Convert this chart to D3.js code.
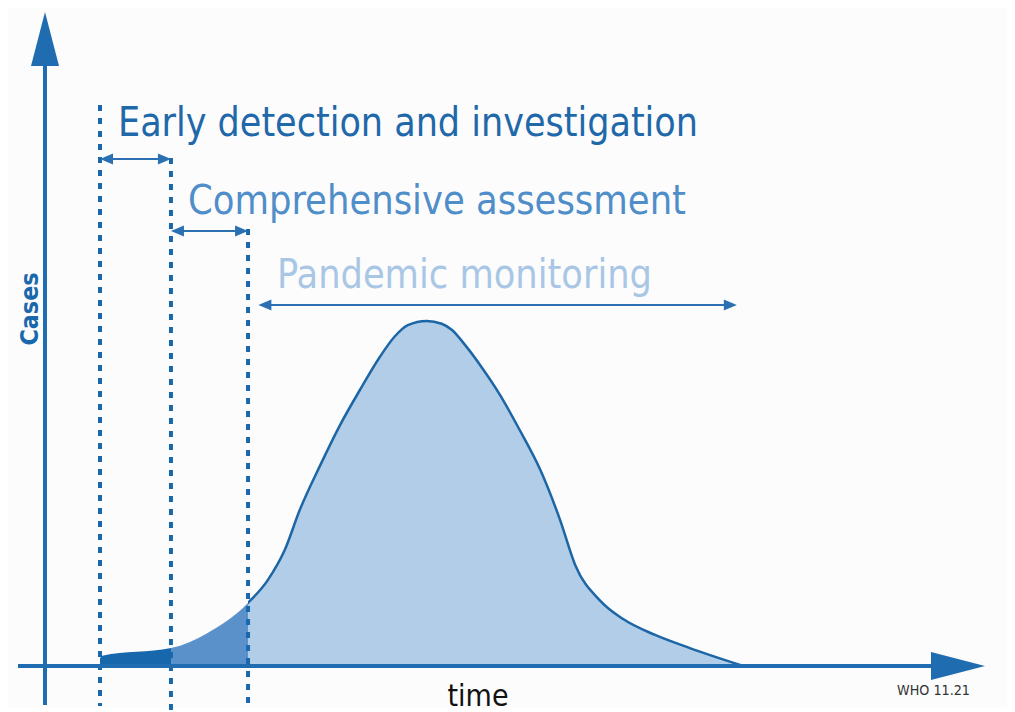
<!DOCTYPE html>
<html>
<head>
<meta charset="utf-8">
<script src="https://cdn.jsdelivr.net/npm/d3@7"></script>
<style>
  body { margin: 0; background: #ffffff; }
  svg { display: block; }
  text { font-family: "Liberation Sans Narrow", "DejaVu Sans Condensed", "Roboto Condensed", Roboto, sans-serif; }
</style>
</head>
<body>
<div id="chart"></div>
<script>
// epidemic curve, time in arbitrary units, cases as % of peak
const time  = [5.85, 6.1, 13.4, 17.3, 21.6, 23.7, 25.5, 27.1, 29.3, 31.4, 33.5, 35.6, 37.2, 38.6, 40.6, 42.2, 43.3, 44.7, 46.3, 48.4, 50.5, 52.7, 54.8, 56.4, 59.0, 61.5, 64.9, 68.6, 74.3];
const cases = [2.2, 3.0, 5.2, 9.6, 18.3, 24.9, 33.6, 45.2, 58.3, 69.9, 80.0, 89.5, 95.5, 98.8, 100, 99.2, 97.4, 93.0, 87.2, 78.6, 68.4, 56.8, 42.3, 29.3, 19.1, 13.6, 9.0, 5.2, 0];

// phases
const phaseNames  = ["Early detection and investigation", "Comprehensive assessment", "Pandemic monitoring"];
const phaseStart  = [5.85, 13.4, 22.7];
const phaseEnd    = [13.4, 21.6, 73.6];
const boundaries  = [5.85, 13.4, 21.6];

const svg_width = 1015;
const svg_height = 712;

const axisColor = "#1f6db0";
const fills = ["#1767ad", "#5b91cb", "#b1cde8"];
const labelColors = ["#1f68a9", "#4f8ec9", "#a9c7e5"];

const x = d3.scaleLinear().domain([0, 100]).range([45, 985]);
const y = d3.scaleLinear().domain([0, 100]).range([666, 321]);

let svg = d3.select("#chart")
  .append("svg")
    .attr("width", svg_width)
    .attr("height", svg_height);

svg.append("rect")
    .attr("x", 8).attr("y", 8)
    .attr("width", svg_width - 16).attr("height", svg_height - 12)
    .attr("fill", "#fcfcfd");

const pts = time.map((t, i) => [t, cases[i]]);

const area = d3.area()
    .x(d => x(d[0]))
    .y0(y(0))
    .y1(d => y(d[1]))
    .curve(d3.curveMonotoneX);

const line = d3.line()
    .x(d => x(d[0]))
    .y(d => y(d[1]))
    .curve(d3.curveMonotoneX);

// clip regions for the three coloured parts
const clipEdges = [boundaries[0], boundaries[1], boundaries[2], 100];
const defs = svg.append("defs");
for (let i = 0; i < 3; i++) {
    defs.append("clipPath")
        .attr("id", "clip" + i)
      .append("rect")
        .attr("x", x(clipEdges[i]))
        .attr("y", 0)
        .attr("width", x(clipEdges[i + 1]) - x(clipEdges[i]))
        .attr("height", y(0) + 2);
}

for (let i = 0; i < 3; i++) {
    svg.append("path")
        .datum(pts)
        .attr("clip-path", "url(#clip" + i + ")")
        .attr("d", area)
        .attr("fill", fills[i]);
}

svg.append("path")
    .datum(pts)
    .attr("clip-path", "url(#clip2)")
    .attr("d", line)
    .attr("fill", "none")
    .attr("stroke", "#1d66a6")
    .attr("stroke-width", 2.5);

// dotted phase boundaries
const dotTops = [105, 158, 229];
const dotBottoms = [706, 710, 708];
boundaries.forEach((b, i) => {
    svg.append("line")
        .attr("x1", x(b)).attr("x2", x(b))
        .attr("y1", dotTops[i]).attr("y2", dotBottoms[i])
        .attr("stroke", "#1a68ac")
        .attr("stroke-width", 4)
        .attr("stroke-dasharray", "6,7");
});

// axes
svg.append("line")
    .attr("x1", 45).attr("x2", 45)
    .attr("y1", 705).attr("y2", 50)
    .attr("stroke", axisColor).attr("stroke-width", 4);
svg.append("path")
    .attr("d", "M45,12 L59,66 L31,66 Z")
    .attr("fill", axisColor);

svg.append("line")
    .attr("x1", 18).attr("x2", 945)
    .attr("y1", y(0)).attr("y2", y(0))
    .attr("stroke", axisColor).attr("stroke-width", 4);
svg.append("path")
    .attr("d", `M985,${y(0)} L931,${y(0) - 14} L931,${y(0) + 14} Z`)
    .attr("fill", axisColor);

// phase arrows and labels
const arrowY = [159, 231, 305];
const labelX = [118, 188, 277];
const labelY = [136, 214, 288];
const labelW = [580, 498, 375];

function doubleArrow(x1, x2, yy) {
    const g = svg.append("g").attr("fill", "#2a70b2").attr("stroke", "#2a70b2");
    g.append("line")
        .attr("x1", x1 + 8).attr("x2", x2 - 8)
        .attr("y1", yy).attr("y2", yy)
        .attr("stroke-width", 2.2);
    g.append("path")
        .attr("stroke", "none")
        .attr("d", `M${x1},${yy} L${x1 + 13},${yy - 5.5} L${x1 + 13},${yy + 5.5} Z`);
    g.append("path")
        .attr("stroke", "none")
        .attr("d", `M${x2},${yy} L${x2 - 13},${yy - 5.5} L${x2 - 13},${yy + 5.5} Z`);
}

phaseNames.forEach((name, i) => {
    doubleArrow(x(phaseStart[i]), x(phaseEnd[i]), arrowY[i]);
    svg.append("text")
        .attr("x", labelX[i])
        .attr("y", labelY[i])
        .attr("font-size", 40)
        .attr("fill", labelColors[i])
        .attr("textLength", labelW[i])
        .attr("lengthAdjust", "spacingAndGlyphs")
        .text(name);
});

// axis titles
svg.append("text")
    .attr("transform", "translate(38,309) rotate(-90)")
    .attr("text-anchor", "middle")
    .attr("font-size", 25)
    .attr("font-weight", "bold")
    .attr("fill", "#1a68ac")
    .attr("textLength", 73)
    .attr("lengthAdjust", "spacingAndGlyphs")
    .text("Cases");

svg.append("text")
    .attr("x", 478)
    .attr("y", 706)
    .attr("text-anchor", "middle")
    .attr("font-size", 30)
    .attr("fill", "#111")
    .attr("textLength", 61)
    .attr("lengthAdjust", "spacingAndGlyphs")
    .text("time");

svg.append("text")
    .attr("x", 897)
    .attr("y", 695)
    .attr("font-size", 14)
    .attr("fill", "#333")
    .attr("textLength", 73)
    .attr("lengthAdjust", "spacingAndGlyphs")
    .text("WHO 11.21");
</script>
</body>
</html>
